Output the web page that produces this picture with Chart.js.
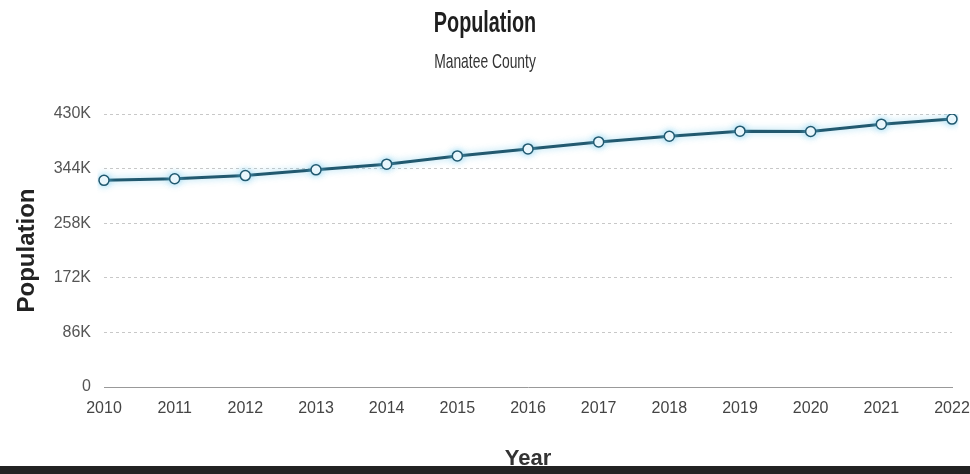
<!DOCTYPE html>
<html>
<head>
<meta charset="utf-8">
<script src="https://cdn.jsdelivr.net/npm/chart.js@4/dist/chart.umd.min.js"></script>
<style>
  html, body { margin: 0; padding: 0; background: #fff; }
  #wrap { position: relative; width: 970px; height: 474px; }
  #bar { position: absolute; left: 0; top: 466px; width: 970px; height: 8px; background: #222; }
</style>
</head>
<body>
<div id="wrap">
  <canvas id="popChart" width="970" height="474"></canvas>
  <div id="bar"></div>
</div>
<script>
// data
const years = ['2010','2011','2012','2013','2014','2015','2016','2017','2018','2019','2020','2021','2022'];
const population = [325500, 328000, 333000, 342000, 351000, 364000, 375000, 386000, 395000, 403000, 402500, 414000, 422000];
const yTickValues = [0, 86000, 172000, 258000, 344000, 430000];
const yTickLabels = ['0', '86K', '172K', '258K', '344K', '430K'];
const titleText = 'Population';
const subtitleText = 'Manatee County';

// narrow heading, drawn squeezed like the original
const headingPlugin = {
  id: 'heading',
  afterDraw(chart){
    const c = chart.ctx;
    c.save();
    c.fillStyle = '#1e1e1e';
    c.textAlign = 'center';
    c.textBaseline = 'alphabetic';
    c.translate(485, 0);
    c.scale(0.66, 1);
    c.font = 'bold 30px "Liberation Sans", Arial, sans-serif';
    c.fillText(titleText, 0, 32);
    c.fillStyle = '#333';
    c.font = '21px "Liberation Sans", Arial, sans-serif';
    c.fillText(subtitleText, 0, 68);
    c.restore();
  }
};

// soft blue glow under the line
const glowPlugin = {
  id: 'glow',
  beforeDatasetDraw(chart){
    const c = chart.ctx;
    c.save();
    c.shadowColor = 'rgba(110,200,235,0.7)';
    c.shadowBlur = 7;
  },
  afterDatasetDraw(chart){
    chart.ctx.restore();
  }
};

new Chart(document.getElementById('popChart'), {
  type: 'line',
  data: {
    labels: years,
    datasets: [{
      data: population,
      borderColor: '#22596f',
      borderWidth: 3,
      pointBackgroundColor: '#fff',
      pointBorderColor: '#22596f',
      pointBorderWidth: 1.5,
      pointRadius: 5,
      tension: 0,
      fill: false
    }]
  },
  options: {
    responsive: false,
    animation: false,
    layout: { padding: { top: 114, right: 0, bottom: 0, left: 0 } },
    plugins: { legend: { display: false }, tooltip: { enabled: false } },
    scales: {
      x: {
        offset: false,
        grid: { display: false, drawTicks: false },
        border: { color: '#999', width: 1 },
        ticks: { color: '#444', font: { size: 16, family: '"Liberation Sans", Arial, sans-serif' }, padding: 12, maxRotation: 0, autoSkip: false },
        title: { display: true, text: 'Year', color: '#333', font: { size: 22, weight: 'bold', family: '"Liberation Sans", Arial, sans-serif' }, padding: { top: 0, bottom: 2 } },
        afterFit(s){ s.height = 474 - 387; s.paddingRight = 18; s.paddingLeft = 0; }
      },
      y: {
        min: 0,
        max: 430000,
        afterBuildTicks(s){ s.ticks = yTickValues.map(v => ({ value: v })); },
        grid: { color: '#c8c8c8', drawTicks: false },
        border: { display: false, dash: [3,3] },
        ticks: {
          color: '#555',
          font: { size: 16, family: '"Liberation Sans", Arial, sans-serif' },
          padding: 13,
          callback(v){ const i = yTickValues.indexOf(v); return i >= 0 ? yTickLabels[i] : ''; }
        },
        title: { display: true, text: 'Population', color: '#222', font: { size: 24, weight: 'bold', family: '"Liberation Sans", Arial, sans-serif' }, padding: { top: 13, bottom: 0 } },
        afterFit(s){ s.width = 104; s.paddingTop = 0; s.paddingBottom = 0; }
      }
    }
  },
  plugins: [headingPlugin, glowPlugin]
});
</script>
</body>
</html>
